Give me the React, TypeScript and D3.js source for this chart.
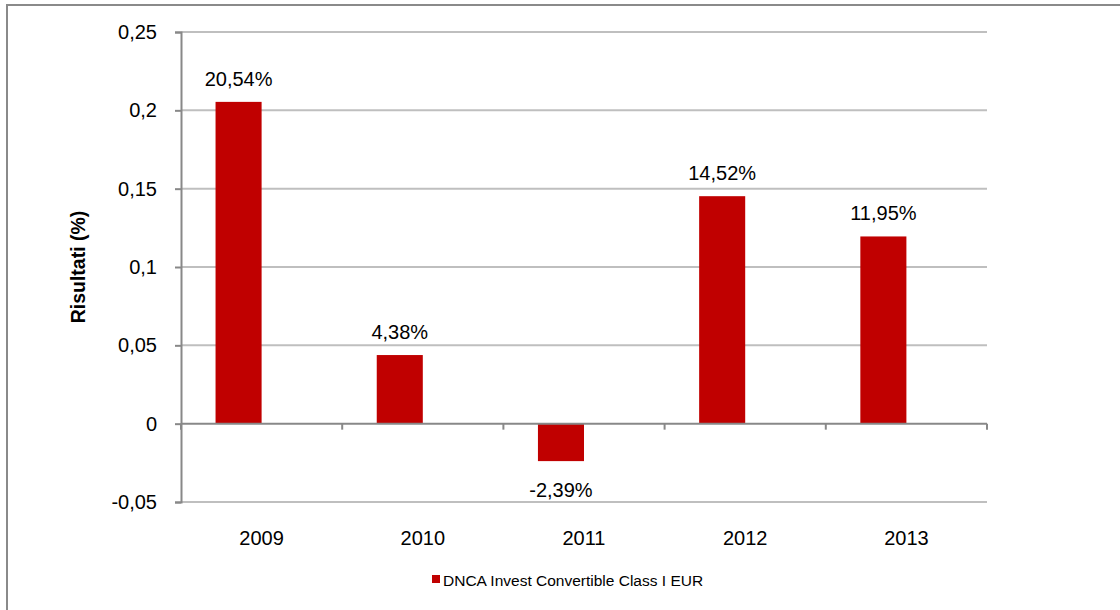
import React, { useEffect, useRef } from "react";
import * as d3 from "d3";

// chart data
const years = ["2009", "2010", "2011", "2012", "2013"];
const results = [0.2054, 0.0438, -0.0239, 0.1452, 0.1195];
const seriesName = "DNCA Invest Convertible Class I EUR";
// excel kept an empty second slot in each cluster
const slots = ["fund", "empty"];
const yTicks = [-0.05, 0, 0.05, 0.1, 0.15, 0.2, 0.25];

const App: React.FC = () => {
  const svgRef = useRef<SVGSVGElement | null>(null);

  useEffect(() => {
    const width = 1120;
    const height = 610;
    const margin = { top: 32, right: 133, bottom: 108, left: 181 };
    const font = "'Liberation Sans', Arial, sans-serif";

    const svg = d3.select(svgRef.current);
    svg.selectAll("*").remove();

    // outer frame (runs off the right / bottom edge)
    svg
      .append("rect")
      .attr("x", 7)
      .attr("y", 5)
      .attr("width", width + 20)
      .attr("height", height + 20)
      .attr("fill", "#fff")
      .attr("stroke", "#8a8a8a")
      .attr("stroke-width", 2);

    const xScale = d3
      .scaleBand()
      .domain(years)
      .range([margin.left, width - margin.right]);

    const slotScale = d3
      .scaleBand()
      .domain(slots)
      .range([0, xScale.bandwidth()])
      .paddingInner(0)
      .paddingOuter(0.75);

    const yScale = d3
      .scaleLinear()
      .domain([-0.05, 0.25])
      .range([height - margin.bottom, margin.top]);

    const fmtTick = (v: number) => String(+v.toFixed(2)).replace(".", ",");
    const fmtPct = (v: number) => (v * 100).toFixed(2).replace(".", ",") + "%";

    // gridlines
    svg
      .append("g")
      .selectAll("line")
      .data(yTicks.filter((t) => t !== 0))
      .enter()
      .append("line")
      .attr("x1", margin.left)
      .attr("x2", width - margin.right)
      .attr("y1", (d) => yScale(d))
      .attr("y2", (d) => yScale(d))
      .attr("stroke", "#bfbfbf")
      .attr("stroke-width", 2);

    // y axis
    const yAxis = svg
      .append("g")
      .attr("transform", `translate(${margin.left},0)`)
      .call(d3.axisLeft(yScale).tickValues(yTicks).tickSize(6).tickPadding(18).tickFormat((d) => fmtTick(+d)));
    yAxis.select(".domain").attr("stroke", "#888").attr("stroke-width", 2);
    yAxis.selectAll(".tick line").attr("stroke", "#888").attr("stroke-width", 2);
    yAxis
      .selectAll(".tick text")
      .attr("font-family", font)
      .attr("font-size", 20)
      .attr("fill", "#000");

    // bars
    svg
      .append("g")
      .selectAll("rect")
      .data(results)
      .enter()
      .append("rect")
      .attr("x", (d, i) => xScale(years[i])! + slotScale("fund")!)
      .attr("y", (d) => yScale(Math.max(0, d)))
      .attr("width", slotScale.bandwidth())
      .attr("height", (d) => Math.abs(yScale(d) - yScale(0)))
      .attr("fill", "#c00000");

    // x axis at zero
    const x0 = yScale(0);
    svg
      .append("line")
      .attr("x1", margin.left)
      .attr("x2", width - margin.right)
      .attr("y1", x0)
      .attr("y2", x0)
      .attr("stroke", "#888")
      .attr("stroke-width", 2);
    const bounds = years.map((y) => xScale(y)!).concat([width - margin.right]);
    svg
      .append("g")
      .selectAll("line")
      .data(bounds)
      .enter()
      .append("line")
      .attr("x1", (d) => d)
      .attr("x2", (d) => d)
      .attr("y1", x0)
      .attr("y2", x0 + 6)
      .attr("stroke", "#888")
      .attr("stroke-width", 2);

    // category labels
    svg
      .append("g")
      .selectAll("text")
      .data(years)
      .enter()
      .append("text")
      .attr("x", (d) => xScale(d)! + xScale.bandwidth() / 2)
      .attr("y", height - margin.bottom + 43)
      .attr("text-anchor", "middle")
      .attr("font-family", font)
      .attr("font-size", 20)
      .text((d) => d);

    // data labels
    svg
      .append("g")
      .selectAll("text")
      .data(results)
      .enter()
      .append("text")
      .attr("x", (d, i) => xScale(years[i])! + slotScale("fund")! + slotScale.bandwidth() / 2)
      .attr("y", (d) => (d >= 0 ? yScale(d) - 16 : yScale(d) + 36))
      .attr("text-anchor", "middle")
      .attr("font-family", font)
      .attr("font-size", 20)
      .text((d) => fmtPct(d));

    // y title
    svg
      .append("text")
      .attr("transform", `translate(85, ${(margin.top + height - margin.bottom) / 2}) rotate(-90)`)
      .attr("text-anchor", "middle")
      .attr("font-family", font)
      .attr("font-size", 19.5)
      .attr("font-weight", "bold")
      .text("Risultati (%)");

    // legend
    const legend = svg.append("g").attr("transform", "translate(432, 575)");
    legend.append("rect").attr("width", 8).attr("height", 8).attr("fill", "#c00000");
    legend
      .append("text")
      .attr("x", 11)
      .attr("y", 11)
      .attr("font-family", font)
      .attr("font-size", 15.5)
      .text(seriesName);
  }, []);

  return (
    <svg
      ref={svgRef}
      width={1120}
      height={610}
      style={{ position: "absolute", left: 0, top: 0 }}
    ></svg>
  );
};

export default App;
